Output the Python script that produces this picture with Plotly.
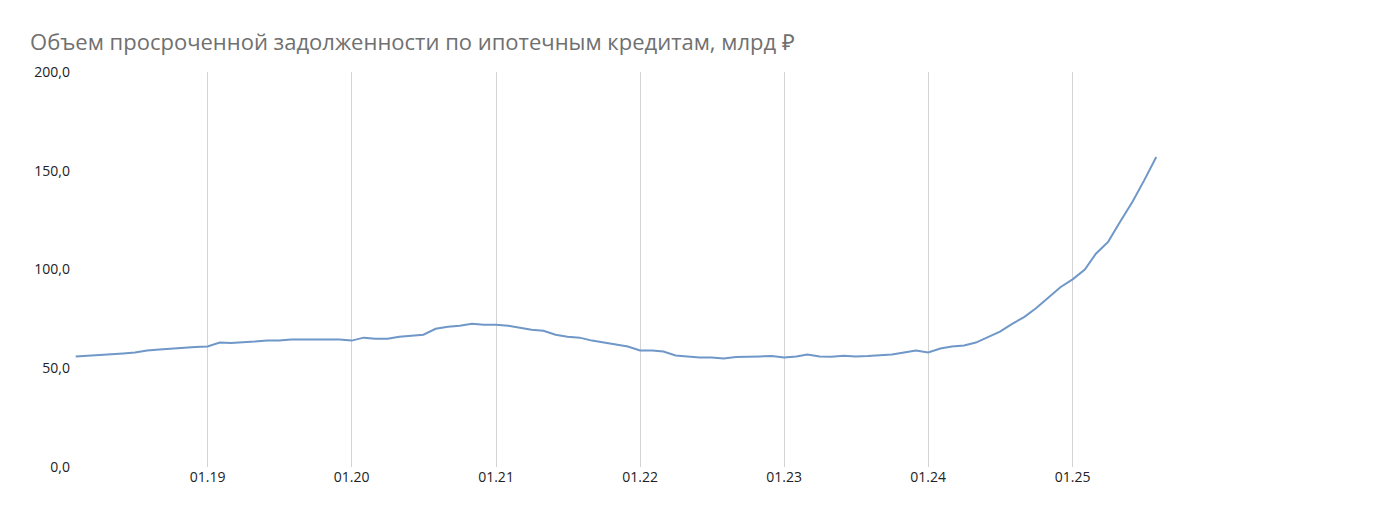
import pandas as pd
import plotly.graph_objects as go

# ежемесячные значения, млрд руб., с 02.2018 по 08.2025
values = [
    56, 56.3, 56.5, 57, 57.5, 58, 59, 59.5, 60, 60.5, 60.7,
    61, 63, 62.8, 63, 63.5, 64, 64, 64.5, 64.5, 64.3, 64.2, 64.5,
    64, 65.5, 65, 65, 66, 66.5, 67, 70, 71, 71.5, 72.5, 72,
    72, 71.5, 70.5, 69.5, 69, 67, 66, 65.5, 64, 63, 62, 61,
    59, 59, 58.5, 56.5, 56, 55.5, 55.5, 55, 55.7, 56, 56, 56.2,
    55.5, 56, 57, 56, 55.8, 56.3, 56, 56.2, 56.5, 57, 58, 59,
    58, 60, 61, 61.5, 63, 66, 68.5, 72.5, 76, 80.5, 86, 91,
    95, 100, 108, 114, 124, 134, 145, 157,
]
dates = pd.date_range("2018-02-01", periods=len(values), freq="MS")

tick_vals = pd.date_range("2019-01-01", "2025-01-01", freq="YS")
tick_text = [d.strftime("%m.%y") for d in tick_vals]

fig = go.Figure(go.Scatter(x=dates, y=values, mode="lines",
                           line=dict(color="#6f97c8", width=2)))

fig.update_layout(
    width=1378, height=526,
    paper_bgcolor="white", plot_bgcolor="white",
    font=dict(family="Open Sans, Liberation Sans, sans-serif", size=14, color="#222"),
    title=dict(text="Объем просроченной задолженности по ипотечным кредитам, млрд ₽",
               x=0.016, y=0.95, xanchor="left",
               font=dict(size=22, color="#707070")),
    margin=dict(l=63, r=122, t=64, b=67),
    showlegend=False,
    separators=", ",
)
fig.update_xaxes(range=["2018-01-20", "2026-05-01"], tickvals=tick_vals, ticktext=tick_text,
                 showgrid=True, gridcolor="#d4d4d4", gridwidth=1, zeroline=False,
                 showline=False, ticks="")
fig.update_yaxes(range=[0, 200], dtick=50, tickformat=".1f",
                 showgrid=False, zeroline=False, ticks="")

fig.write_html("out.html")
